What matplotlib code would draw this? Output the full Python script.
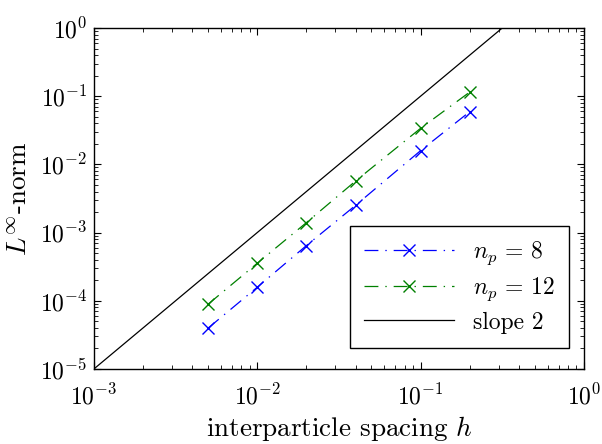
import matplotlib
matplotlib.use("Agg")
import matplotlib.pyplot as plt

plt.rcParams["font.family"] = "serif"
plt.rcParams["font.serif"] = ["cmr10"]
plt.rcParams["mathtext.fontset"] = "cm"
plt.rcParams["axes.formatter.use_mathtext"] = True
plt.rcParams["axes.unicode_minus"] = False
plt.rcParams["lines.scale_dashes"] = False

# data
h = [0.005, 0.01, 0.02, 0.04, 0.1, 0.2]
err_np8 = [3.97e-5, 1.58e-4, 6.45e-4, 2.51e-3, 1.59e-2, 5.93e-2]
err_np12 = [8.9e-5, 3.55e-4, 1.40e-3, 5.71e-3, 3.38e-2, 1.15e-1]
slope_h = [1e-3, 10 ** -0.5]
slope_err = [1e-5, 1e0]

fig = plt.figure(figsize=(6.02, 4.44), dpi=100)
ax = fig.add_axes([0.156, 0.169, 0.814, 0.768])

dd = (0, (10, 5, 1, 5))
ax.plot(h, err_np8, color="blue", ls=dd, lw=0.9, marker="x", ms=9, mew=1.0,
        label=r"$n_p\,=\,8$")
ax.plot(h, err_np12, color="green", ls=dd, lw=0.9, marker="x", ms=9, mew=1.0,
        label=r"$n_p\,=\,12$")
ax.plot(slope_h, slope_err, color="black", lw=0.9, label="slope 2")

ax.set_xscale("log")
ax.set_yscale("log")
ax.set_xlim(1e-3, 1e0)
ax.set_ylim(1e-5, 1e0)

ax.tick_params(which="both", direction="in", top=True, right=True, labelsize=17)
ax.tick_params(which="major", length=5, width=0.8)
ax.tick_params(which="minor", length=3, width=0.6)
ax.tick_params(axis="x", pad=11)
ax.tick_params(axis="y", pad=5)
for s in ax.spines.values():
    s.set_linewidth(1.0)

ax.set_xlabel(r"interparticle spacing $h$", fontsize=19.5, labelpad=3)
ax.set_ylabel(r"$L^\infty$-norm", fontsize=19.5, labelpad=6)

leg = ax.legend(loc="lower right", bbox_to_anchor=(0.969, 0.062), borderaxespad=0,
                fontsize=17, fancybox=False, edgecolor="black", framealpha=1,
                handlelength=3.8, borderpad=0.6, labelspacing=0.35)
leg.get_frame().set_linewidth(1.0)

fig.savefig("out.png", dpi=100)
